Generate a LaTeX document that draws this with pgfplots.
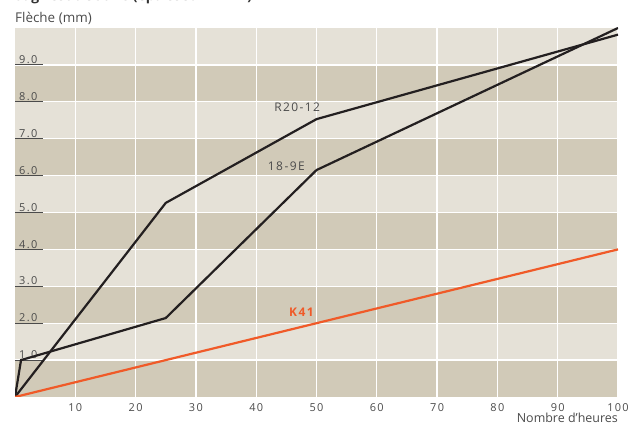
\documentclass[border=0pt]{standalone}
\usepackage{pgfplots}
\pgfplotsset{compat=1.18}
\usepackage{fontspec}
\setmainfont{Open Sans}
\newfontfamily\spaced[LetterSpace=12]{Open Sans}
\definecolor{bandlight}{RGB}{229,225,215}
\definecolor{banddark}{RGB}{209,202,184}
\definecolor{curve}{RGB}{35,31,32}
\definecolor{k41}{RGB}{240,90,40}
\definecolor{txt}{RGB}{75,75,75}

\begin{document}
\begin{tikzpicture}
\begin{axis}[
    at={(15bp,26bp)}, anchor=south west,
    width=603bp, height=369bp, scale only axis,
    set layers,
    xmin=0, xmax=100, ymin=0, ymax=10,
    xtick={10,20,...,100},
    ytick={1,...,9},
    grid=major,
    grid style={white, line width=1.3bp},
    axis line style={draw=none},
    axis background/.style={fill=bandlight},
    xtick style={draw=none},
    ytick style={txt, line width=1bp},
    ytick pos=left,
    tick align=inside,
    major tick length=28bp,
    ticklabel style={font=\spaced\fontsize{11}{12}\selectfont, text=txt},
    yticklabel style={anchor=south west, inner sep=1bp, xshift=3bp, yshift=0bp,
        /pgf/number format/.cd, fixed, fixed zerofill, precision=1, assume math mode=true},
    xticklabel style={/pgf/number format/assume math mode=true, yshift=-3bp},
    xlabel={Nombre d’heures},
    xlabel style={at={(axis description cs:1,0)}, anchor=north east, yshift=-15.5bp,
        font=\fontsize{12.5}{13}\selectfont, text=txt, inner sep=0bp},
]
\begin{pgfonlayer}{axis background}
\fill[banddark] (axis cs:0,0) rectangle (axis cs:100,1);
\fill[banddark] (axis cs:0,2) rectangle (axis cs:100,3);
\fill[banddark] (axis cs:0,4) rectangle (axis cs:100,5);
\fill[banddark] (axis cs:0,6) rectangle (axis cs:100,7);
\fill[banddark] (axis cs:0,8) rectangle (axis cs:100,9);
\end{pgfonlayer}

% R20-12
\addplot[curve, line width=2.2bp] coordinates {(0,0) (25,5.26) (50,7.53) (100,9.82)};
% 18-9E
\addplot[curve, line width=2.2bp] coordinates {(0,0) (1,1.0) (25,2.14) (50,6.15) (100,10.0)};
% K41
\addplot[k41, line width=2.2bp] coordinates {(0,0) (100,4.0)};

\node[text=txt, font=\spaced\fontsize{12}{13}\selectfont] at (axis cs:46.8,7.85) {R20-12};
\node[text=txt, font=\spaced\fontsize{12}{13}\selectfont] at (axis cs:45.0,6.25) {18-9E};
\node[text=k41, font=\spaced\bfseries\fontsize{12}{13}\selectfont] at (axis cs:47.5,2.29) {K41};
\end{axis}
\node[anchor=base west, inner sep=0pt, text=txt, font=\fontsize{13.5}{14}\selectfont] at (15bp,400bp) {Flèche (mm)};
\node[anchor=base west, inner sep=0pt, text=black!80, font=\bfseries\fontsize{14}{15}\selectfont] at (15bp,422bp) {Sag Test à 950 °C (épaisseur 2 mm)};
\pgfresetboundingbox
\useasboundingbox (0,0) rectangle (636bp,423bp);
\end{tikzpicture}
\end{document}
